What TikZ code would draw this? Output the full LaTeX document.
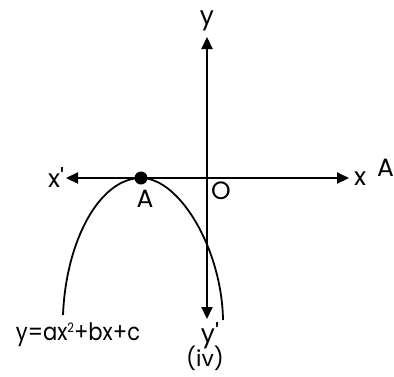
\documentclass[tikz,border=0pt]{standalone}
\usepackage{fontspec}
\setmainfont{Poppins}
\usetikzlibrary{arrows.meta}
\tikzset{
  axis/.style={line width=2.2pt,-{Triangle[length=12pt,width=11pt]}},
  curve/.style={line width=1.8pt},
  lbl/.style={inner sep=0pt,font=\fontsize{25}{25}\selectfont},
}
\begin{document}
\begin{tikzpicture}[x=1pt,y=-1pt]
\useasboundingbox (0,0) rectangle (394,376);
\coordinate (O) at (207,178);
\coordinate (xl) at (66,178);
\coordinate (xr) at (349,178);
\coordinate (yt) at (207,37);
\coordinate (yb) at (207,319);
\coordinate (A) at (141,178);
\coordinate (L) at (63,315);
\coordinate (R) at (223,320);
\draw[axis] (O) -- (xl);
\draw[axis] (O) -- (xr);
\draw[axis] (O) -- (yt);
\draw[axis] (O) -- (yb);
\draw[curve] (L) .. controls (66,240) and (100,178) .. (A)
  .. controls (180,178) and (222,250) .. (R);
\fill (A) circle (6.5);
\node[lbl] (ty) at (207,21) {y};
\node[lbl] (txl) at (56,178) {x\textquotesingle};
\node[lbl] (tx) at (360,179) {x};
\node[lbl,anchor=west] (tA2) at (377,168) {A};
\node[lbl] (tA) at (145,199) {A};
\node[lbl] (tO) at (221,191) {O};
\node[lbl] (tyb) at (210,336) {y\textquotesingle};
\node[lbl,font=\fontsize{22}{22}\selectfont] (tiv) at (205,358) {(iv)};
\node[lbl,xscale=0.88,font=\fontsize{24}{24}\selectfont] (eq) at (78,335) {y=ax\raisebox{0.6ex}{\fontsize{13}{13}\selectfont 2}+bx+c};
\end{tikzpicture}
\end{document}
